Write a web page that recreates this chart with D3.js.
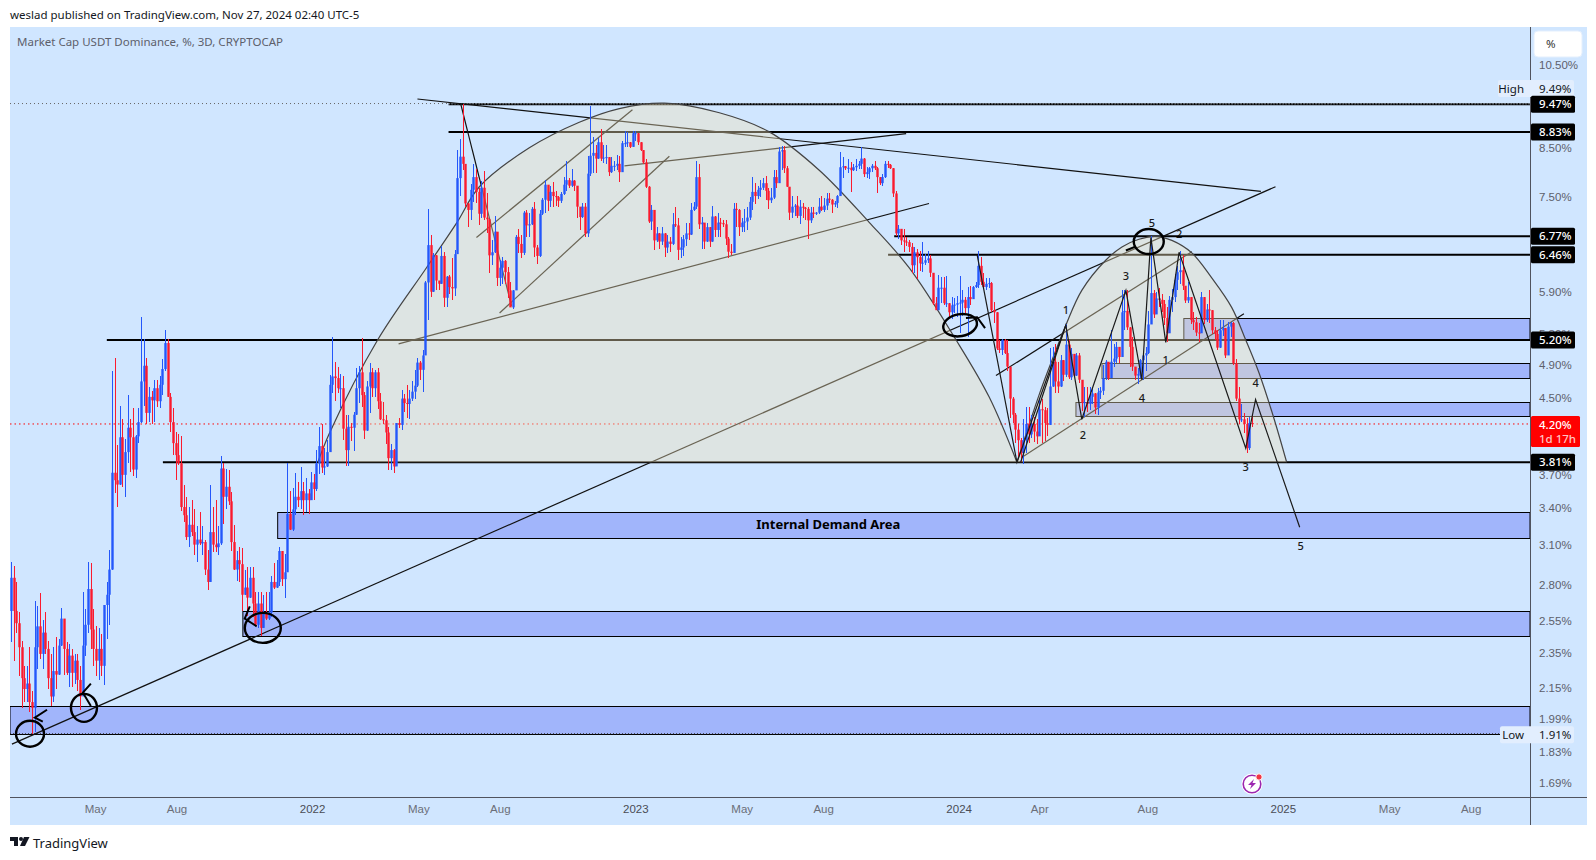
<![CDATA[<!DOCTYPE html>
<html><head><meta charset="utf-8">
<script src="https://cdnjs.cloudflare.com/ajax/libs/d3/7.8.5/d3.min.js"></script>
<style>
html,body{margin:0;padding:0;background:#fff;}
svg{display:block;font-family:"Noto Sans",sans-serif;}
</style></head><body>
<svg id="c" width="1596" height="860"></svg>
<script>
const firstOpen=2.61;
const closes=[
2.84,2.61,2.53,2.38,2.20,2.14,2.17,2.07,2.04,2.38,
2.51,2.34,2.47,2.37,2.20,2.10,2.24,2.22,2.39,2.56,
2.37,2.23,2.33,2.23,2.30,2.19,2.10,2.39,2.52,2.76,
2.49,2.37,2.30,2.37,2.27,2.65,2.72,2.90,3.71,3.64,
3.60,4.06,3.69,3.91,4.16,4.06,3.74,4.07,4.22,4.68,
4.87,4.32,4.50,4.46,4.60,4.45,4.64,4.83,5.16,4.50,
4.22,4.00,3.88,3.80,3.40,3.33,3.15,3.25,3.19,3.09,
3.13,3.10,3.11,2.90,2.81,3.19,3.09,3.07,3.10,3.75,
3.49,3.58,3.45,3.11,2.90,2.97,2.94,2.72,2.77,2.70,
2.84,2.66,2.52,2.66,2.50,2.59,2.56,2.60,2.81,2.77,
2.81,3.04,2.83,2.88,3.34,3.21,3.38,3.49,3.46,3.54,
3.46,3.52,3.46,
3.62,3.56,3.80,3.97,3.76,3.77,3.91,4.64,4.74,4.72,
4.60,4.60,4.15,3.93,4.17,4.16,4.30,4.60,4.79,4.52,
4.13,4.62,4.79,4.60,4.79,4.45,4.25,4.24,4.11,3.85,
3.93,3.77,4.21,4.19,4.48,4.43,4.42,4.48,4.56,4.63,
4.91,4.82,5.00,6.02,6.62,5.88,6.45,6.05,6.00,6.44,
5.79,6.11,5.95,5.93,6.47,7.85,8.29,8.14,7.36,7.24,
7.62,7.87,7.58,7.17,7.66,7.10,7.07,6.45,6.50,6.85,
6.09,6.25,6.36,6.18,5.90,5.65,5.90,6.76,6.64,6.49,
7.19,6.96,6.98,7.26,6.58,6.44,7.17,7.43,7.72,7.41,
7.58,7.50,7.48,7.41,7.54,7.72,7.81,7.70,7.80,7.70,
7.30,7.11,
7.30,6.82,7.94,8.31,8.37,8.25,8.60,8.25,8.27,8.28,
7.97,8.10,8.10,8.14,7.97,8.58,8.58,8.60,8.50,8.80,
8.80,8.60,8.43,8.17,7.68,7.03,7.24,6.70,6.82,6.68,
6.82,6.58,6.68,6.64,6.98,6.96,6.54,6.58,6.72,6.82,
6.80,7.24,7.30,7.87,6.98,7.01,6.68,6.93,6.68,7.12,
6.88,7.01,7.00,6.98,6.73,6.51,6.49,7.26,7.24,6.93,
7.01,7.03,7.10,7.39,7.58,7.50,7.62,7.66,7.75,7.60,
7.42,7.47,7.87,7.75,8.40,8.43,8.05,7.68,7.19,7.30,
7.32,7.13,7.30,7.28,7.26,7.05,7.19,7.17,7.19,7.30,
7.24,7.32,7.45,7.43,7.34,7.37,7.50,8.07,8.09,8.05,
8.06,8.01,8.07,8.10,8.14,8.25,7.93,7.97,8.05,8.10,
8.05,7.87,7.75,7.87,8.14,8.12,8.05,7.55,6.82,6.90,
6.70,
6.68,6.67,6.59,6.29,6.50,6.42,6.32,6.33,6.37,6.40,
6.17,5.71,5.61,5.94,5.94,5.71,5.71,5.58,5.68,5.69,
5.71,5.72,5.76,5.64,5.80,5.77,5.95,5.98,6.28,6.03,
5.95,6.00,6.01,5.61,5.58,5.09,5.07,5.20,5.03,4.86,
4.48,4.30,4.14,4.03,3.90,4.03,4.20,4.09,4.20,4.12,
4.07,4.36,4.35,4.21,4.19,4.62,4.92,4.68,4.62,4.94,
4.76,5.14,4.73,5.02,4.75,5.00,4.70,4.43,4.44,4.42,
4.50,4.54,4.38,4.55,4.57,4.72,4.92,4.72,4.92,4.96,
5.11,4.98,5.58,5.60,5.37,5.11,4.86,4.75,4.77,4.94,
5.00,5.03,5.41,5.86,5.55,5.78,5.76,5.70,5.50,5.29,
5.76,5.80,6.06,6.18,6.21,5.97,5.75,5.80,5.47,5.44,
5.30,5.29,5.80,5.47,5.62,5.61,5.33,5.28,5.10,5.33,
5.36,5.00,5.38,5.43,4.90,4.48,4.25,4.25,4.20,3.95,
4.21,4.20];
const highs=[
2.96,2.93,2.81,2.60,2.42,2.27,2.27,2.38,2.13,2.68,
2.64,2.73,2.55,2.60,2.42,2.34,2.38,2.44,2.43,2.63,
2.56,2.41,2.40,2.37,2.34,2.34,2.27,2.74,2.62,2.96,
2.95,2.62,2.51,2.50,2.46,2.65,2.81,3.05,4.80,4.97,
3.98,4.40,4.25,4.04,4.52,4.25,4.37,4.08,4.37,5.51,
5.22,4.97,4.62,4.57,4.70,4.70,4.75,4.95,5.33,5.22,
4.54,4.37,4.12,4.09,4.07,3.60,3.49,3.40,3.46,3.38,
3.24,3.36,3.24,3.13,3.05,3.60,3.40,3.46,3.24,3.87,
3.80,3.75,3.74,3.53,3.25,3.04,3.07,3.06,2.90,2.92,
2.92,2.92,2.74,2.74,2.74,2.72,2.74,2.74,2.85,2.95,
2.97,3.07,3.04,3.02,3.80,3.54,3.57,3.71,3.62,3.76,
3.62,3.66,3.56,
3.72,3.70,3.93,4.17,4.20,3.95,4.03,4.76,5.24,4.92,
4.86,4.77,4.74,4.30,4.30,4.21,4.33,4.84,4.87,5.23,
4.56,4.69,4.91,4.84,4.82,4.84,4.55,4.44,4.30,4.17,
3.99,3.94,4.21,4.26,4.58,4.53,4.64,4.58,4.68,4.82,
4.97,4.93,5.07,6.05,7.26,6.79,6.49,6.21,6.05,6.60,
6.51,6.12,6.14,6.40,6.54,8.43,8.67,9.49,8.14,7.36,
7.74,8.14,8.04,7.66,7.80,8.00,7.55,7.08,6.71,7.12,
6.82,6.37,6.42,6.37,6.26,6.02,5.90,6.80,6.89,6.80,
7.22,7.24,7.18,7.30,7.39,6.62,7.24,7.46,7.81,7.70,
7.70,7.77,7.60,7.50,7.58,7.87,8.19,7.85,8.03,7.81,
7.70,7.30,
7.37,7.37,8.30,9.43,8.72,8.55,8.70,8.90,8.55,8.55,
8.28,8.28,8.20,8.33,8.30,8.62,8.85,8.82,8.60,8.85,
8.84,8.80,8.60,8.43,8.24,7.70,7.33,7.24,6.93,6.82,
6.94,6.82,6.79,6.75,7.19,7.30,7.09,6.75,6.80,7.01,
7.01,7.37,7.38,8.19,8.14,7.11,7.01,7.00,6.93,7.32,
7.12,7.19,7.09,7.05,7.05,6.76,6.64,7.37,7.37,7.26,
7.09,7.26,7.30,7.48,7.87,7.75,7.70,7.81,7.85,7.90,
7.66,7.66,8.01,8.01,8.50,8.51,8.51,8.10,7.68,7.50,
7.35,7.50,7.43,7.36,7.30,7.30,7.30,7.30,7.20,7.47,
7.50,7.47,7.55,7.56,7.45,7.41,7.52,8.38,8.28,8.10,
8.25,8.17,8.13,8.25,8.20,8.50,8.27,8.07,8.07,8.14,
8.20,8.07,7.87,7.93,8.19,8.19,8.14,7.90,7.60,6.97,
6.90,
6.90,6.75,6.70,6.65,6.58,6.55,6.52,6.68,6.48,6.52,
6.45,6.17,5.80,6.14,6.10,6.10,6.12,5.71,5.80,5.79,
5.81,6.12,5.90,5.80,5.95,5.97,5.97,6.03,6.52,6.42,
6.17,6.09,6.09,6.03,5.73,5.51,5.20,5.22,5.22,5.20,
4.86,4.50,4.32,4.20,4.05,4.25,4.38,4.38,4.30,4.28,
4.25,4.48,4.47,4.39,4.37,5.09,5.11,5.15,4.92,5.00,
4.94,5.42,5.20,5.10,5.02,5.03,5.03,4.70,4.62,4.62,
4.62,4.60,4.55,4.60,4.62,4.88,4.94,4.92,5.33,5.15,
5.18,5.11,5.90,5.90,5.90,5.37,5.24,4.86,4.84,4.96,
5.03,5.11,5.60,6.77,5.90,5.88,5.94,5.85,5.75,5.65,
5.82,5.92,6.15,6.27,6.52,6.45,5.97,6.03,5.80,5.58,
5.51,5.43,5.88,5.80,5.70,5.91,5.60,5.37,5.33,5.47,
5.47,5.29,5.45,5.45,5.44,4.95,4.62,4.42,4.32,4.26,
4.27,4.30];
const lows=[
2.41,2.30,2.47,2.21,2.04,2.07,2.07,2.02,1.91,1.92,
2.25,2.31,2.25,2.34,2.14,2.05,2.07,2.14,2.22,2.39,
2.22,2.22,2.15,2.15,2.17,2.13,2.03,2.10,2.33,2.47,
2.37,2.27,2.21,2.19,2.21,2.16,2.43,2.52,2.90,3.52,
3.40,3.64,3.58,3.49,3.80,3.72,3.68,3.66,4.00,4.21,
4.40,4.20,4.22,4.20,4.22,4.38,4.37,4.52,4.80,4.50,
4.12,3.88,3.64,3.78,3.37,3.27,3.13,3.07,3.16,3.01,
2.96,3.09,3.01,2.86,2.75,2.81,3.03,3.03,3.01,3.09,
3.26,3.38,3.42,3.04,2.90,2.82,2.81,2.61,2.72,2.58,
2.70,2.57,2.52,2.50,2.45,2.57,2.55,2.55,2.57,2.76,
2.77,2.78,2.78,2.70,2.88,3.21,3.20,3.33,3.40,3.38,
3.33,3.36,3.34,
3.48,3.46,3.54,3.70,3.71,3.69,3.76,3.92,4.55,4.45,
4.55,4.37,4.03,3.77,3.77,4.02,3.92,4.30,4.43,4.38,
4.04,4.13,4.32,4.50,4.50,4.36,4.24,4.20,3.99,3.74,
3.74,3.71,3.77,4.16,4.14,4.33,4.26,4.25,4.45,4.47,
4.62,4.70,4.56,5.00,5.47,5.80,5.88,5.90,5.90,5.99,
5.66,5.66,5.85,5.76,5.82,6.47,7.50,8.01,7.30,6.93,
7.05,7.39,7.36,6.96,7.10,7.05,6.83,6.16,6.30,6.49,
5.97,5.97,6.00,6.00,5.79,5.65,5.62,5.90,6.49,6.41,
6.45,6.75,6.76,6.96,6.42,6.31,6.42,7.15,7.19,7.22,
7.30,7.30,7.32,7.30,7.36,7.52,7.60,7.66,7.68,7.60,
7.09,6.88,
7.10,6.75,6.75,7.90,7.95,7.95,8.33,8.20,8.15,8.14,
7.90,7.95,8.00,8.01,7.78,7.97,8.50,8.50,8.48,8.50,
8.62,8.55,8.42,8.13,7.66,7.01,6.88,6.54,6.67,6.55,
6.62,6.42,6.49,6.50,6.62,6.93,6.38,6.40,6.44,6.60,
6.70,6.80,7.22,7.26,6.89,6.55,6.55,6.68,6.58,6.88,
6.76,6.76,6.76,6.93,6.62,6.40,6.45,6.49,6.93,6.78,
6.85,6.85,6.88,7.05,7.24,7.35,7.45,7.48,7.62,7.42,
7.26,7.37,7.45,7.66,7.75,8.01,7.95,7.68,7.05,7.09,
7.13,7.10,6.98,7.10,7.05,6.72,7.01,7.10,7.14,7.17,
7.22,7.20,7.24,7.36,7.18,7.30,7.28,7.50,7.85,8.01,
7.95,7.58,8.00,8.00,8.03,8.03,7.87,7.85,7.83,7.97,
8.01,7.56,7.72,7.70,7.85,8.05,8.03,7.48,6.78,6.72,
6.62,
6.50,6.60,6.50,6.17,6.17,6.08,6.20,6.18,6.29,6.32,
6.11,5.68,5.61,5.61,5.72,5.68,5.65,5.51,5.48,5.57,
5.51,5.30,5.53,5.57,5.24,5.68,5.80,5.93,5.93,5.98,
5.92,5.90,5.93,5.58,5.43,5.07,5.03,5.00,5.02,4.80,
4.26,4.21,4.00,3.86,3.81,3.79,3.90,4.00,4.05,4.01,
3.99,4.07,4.00,4.02,4.07,4.21,4.62,4.55,4.55,4.62,
4.68,4.73,4.71,4.70,4.73,4.75,4.66,4.34,4.28,4.33,
4.35,4.42,4.31,4.30,4.48,4.52,4.70,4.70,4.72,4.85,
4.90,4.90,4.98,5.33,5.33,4.86,4.80,4.70,4.65,4.72,
4.70,4.80,5.02,5.41,5.50,5.55,5.65,5.58,5.40,5.18,
5.29,5.58,5.73,5.90,6.00,5.90,5.72,5.72,5.42,5.33,
5.25,5.18,5.29,5.42,5.45,5.43,5.28,5.20,5.07,5.10,
5.25,4.97,5.00,5.24,4.88,4.45,4.20,4.22,4.10,3.90,
3.93,4.17];

const startDate="2021-01-26", barDays=3;
const xTickDates=["2021-05-01","2021-08-01","2022-01-01","2022-05-01","2022-08-01","2023-01-01","2023-05-01","2023-08-01","2024-01-01","2024-04-01","2024-08-01","2025-01-01","2025-05-01","2025-08-01"];
const xTickLabels=["May","Aug","2022","May","Aug","2023","May","Aug","2024","Apr","Aug","2025","May","Aug"];
const yTicks=[10.5,8.5,7.5,5.9,5.3,4.9,4.5,3.7,3.4,3.1,2.8,2.55,2.35,2.15,1.99,1.83,1.69];
const priceTags=[9.47,8.83,6.77,6.46,5.20,3.81];
const levelStarts=[[9.47,164.7],[8.83,164.7],[6.77,332.4],[6.46,330.1],[5.20,36.1],[3.81,57.2]];
const high=9.49, low=1.91, last=4.20;
const zones=[[3.36,3.14,100.4],[2.61,2.45,87.3],[2.05,1.91,0],[5.50,5.20,441.4],[4.91,4.72,410.6],[4.44,4.29,400.8]];
const bigArc=[[115.5,3.81],[120,4.11],[138,5.20],[156.4,6.25],[167.7,7.0],[176.3,7.68],[195.1,8.48],[213.9,9.05],[229,9.37],[245.9,9.50],[266.6,9.27],[285.4,8.83],[304.2,8.01],[322.9,7.02],[338,6.25],[355.7,5.20],[368.1,4.50],[378.6,3.81]];
const smallArc=[[378.6,3.81],[386.9,4.52],[391.8,4.94],[397,5.40],[403,5.90],[412,6.37],[418.1,6.59],[424.5,6.72],[430.9,6.77],[436.9,6.70],[444.4,6.49],[451.9,6.09],[459.4,5.65],[464.7,5.20],[469.6,4.79],[475.2,4.27],[480.1,3.81]];
const trendLines=[
[[0.4,1.86],[475.9,7.68]],[[153,9.60],[470.4,7.59]],[[169.2,9.50],[188.4,5.67]],
[[145.9,5.15],[345.5,7.36]],[[230.9,8.10],[336.9,8.79]],[[175.2,6.75],[233.9,9.34]],
[[183.9,5.57],[247.8,8.30]],[[380.5,3.86],[464,5.56]],[[370.7,4.75],[444.4,6.51]]];
const zigzag=[[363.6,6.46],[378.6,3.81],[397,5.40],[403,4.25],[419.6,5.90],[425.6,4.70],[429,6.75],[434.6,5.17],[439.6,6.50],[464.7,3.95],[468.4,4.47],[485,3.23]];
const zigzag2=[[380,3.81],[397,5.40]];
const circles=[[7.2,1.91,14,13,0],[27.5,2.04,13,14,0],[94.8,2.50,18,15,0],[357.2,5.40,17,11,-10],[428.2,6.68,15,12.5,0]];
const arrows=[
[[13.6,2.03],[9,1.99],[12,1.97]],[[30.1,2.17],[27.1,2.12],[30.1,2.05]],
[[89.9,2.64],[88,2.56],[92.5,2.51]],[[359.4,5.50],[363.6,5.51],[366.6,5.36]],[[419.6,6.53],[423.4,6.60]]];
const backLabels=[["2",439.6,6.80],["3",464.7,3.76]];
const waveLabels=[["5",429.4,7.0],["3",419.6,6.12],["1",397,5.61],["1",434.6,4.94],["4",425.6,4.48],["2",403.4,4.08],["4",468.4,4.66],["5",485.4,3.08]];

if(closes.length!==highs.length||closes.length!==lows.length) throw new Error("len "+closes.length+" "+highs.length+" "+lows.length);

const L=10,R=1530,T=27,B=797;
const FS=11.5;
const svg=d3.select("#c");
const parse=d3.utcParse("%Y-%m-%d");
const x=d3.scaleUtc().domain([parse("2021-01-25"),parse("2025-10-07")]).range([L,R]);
const y=d3.scaleLog().domain([1.626,11.53]).range([B,T]);
const t0=parse(startDate);
const barDate=n=>new Date(+t0+n*barDays*864e5);
const bx=n=>x(barDate(n));
const BG="#d0e6ff";

svg.append("rect").attr("x",L).attr("y",T).attr("width",1587-L).attr("height",825-T).attr("fill",BG);
const defs=svg.append("defs");
defs.append("clipPath").attr("id","pl").append("rect").attr("x",L).attr("y",T).attr("width",R-L).attr("height",B-T);
const g=svg.append("g").attr("clip-path","url(#pl)");

const drawLabels=(sel,data)=>sel.append("g").selectAll("text").data(data).join("text").attr("x",d=>bx(d[1])).attr("y",d=>y(d[2])).attr("dy","0.35em")
 .attr("text-anchor","middle").attr("font-size",11).attr("font-weight",500).attr("fill","#1a1a1a").text(d=>d[0]);

// zones
g.append("g").selectAll("g").data(zones).join("g").each(function(d){
  const s=d3.select(this),x0=d[2]===0?L:bx(d[2]),t=Math.round(y(d[0]))+.5,b=Math.round(y(d[1]))+.5;
  s.append("rect").attr("x",x0).attr("y",t).attr("width",R-x0).attr("height",b-t).attr("fill","#a1b5fb").attr("stroke","#000").attr("stroke-width",1);
});
drawLabels(g,backLabels);
// dotted price lines
g.append("line").attr("x1",L).attr("x2",R).attr("y1",y(high)).attr("y2",y(high)).attr("stroke","#666").attr("stroke-dasharray","1 3");
g.append("line").attr("x1",L).attr("x2",R).attr("y1",y(last)).attr("y2",y(last)).attr("stroke","#f00").attr("stroke-dasharray","1.5 3");
g.append("line").attr("x1",L).attr("x2",R).attr("y1",y(low)).attr("y2",y(low)).attr("stroke","#333").attr("stroke-dasharray","1 2");
// levels
g.append("g").selectAll("line").data(levelStarts).join("line")
 .attr("x1",d=>bx(d[1])).attr("x2",R).attr("y1",d=>y(d[0])).attr("y2",d=>y(d[0])).attr("stroke","#000").attr("stroke-width",2);
// dotted highlight over the top level
g.append("line").attr("x1",bx(levelStarts[0][1])).attr("x2",R).attr("y1",y(levelStarts[0][0])-.5).attr("y2",y(levelStarts[0][0])-.5)
 .attr("stroke","#dfe9f5").attr("stroke-width",1).attr("stroke-dasharray","1 2");
// trendlines
const ln=d3.line().x(d=>bx(d[0])).y(d=>y(d[1]));
g.append("g").selectAll("path").data(trendLines).join("path").attr("d",ln).attr("fill","none").attr("stroke","#111").attr("stroke-width",1.2);
// arcs
const arc=d3.line().x(d=>bx(d[0])).y(d=>y(d[1])).curve(d3.curveCatmullRom.alpha(.5));
[bigArc,smallArc].forEach(a=>{
  g.append("path").attr("d",arc(a)+"Z").attr("fill","rgba(240,225,185,.4)").attr("stroke","none");
  g.append("path").attr("d",arc(a)).attr("fill","none").attr("stroke","#444").attr("stroke-width",1.2);
});
// candles
const UP="#2457fb",DN="#fb1a2e";
const candles=closes.map((c,i)=>({i,c,o:i?closes[i-1]:firstOpen,h:highs[i],l:lows[i]}));
const cg=g.append("g");
cg.selectAll("rect.w").data(candles).join("rect").attr("class","w").attr("shape-rendering","crispEdges")
 .attr("x",d=>Math.round(bx(d.i))).attr("width",1)
 .attr("y",d=>y(Math.max(d.h,d.o,d.c))).attr("height",d=>y(Math.min(d.l,d.o,d.c))-y(Math.max(d.h,d.o,d.c)))
 .attr("fill",d=>d.c>=d.o?UP:DN);
cg.selectAll("rect.b").data(candles).join("rect").attr("class","b")
 .attr("x",d=>Math.round(bx(d.i))-.7).attr("width",2.4)
 .attr("y",d=>y(Math.max(d.o,d.c))).attr("height",d=>Math.max(1,y(Math.min(d.o,d.c))-y(Math.max(d.o,d.c))))
 .attr("fill",d=>d.c>=d.o?UP:DN);
// zigzag + arrows
[zigzag,zigzag2].forEach(z=>g.append("path").attr("d",ln(z)).attr("fill","none").attr("stroke","#1a1a1a").attr("stroke-width",1.2));
g.append("g").selectAll("path").data(arrows).join("path").attr("d",ln).attr("fill","none").attr("stroke","#000").attr("stroke-width",2);
g.append("g").selectAll("ellipse").data(circles).join("ellipse")
 .attr("transform",d=>`translate(${bx(d[0])},${y(d[1])}) rotate(${d[4]})`).attr("rx",d=>d[2]).attr("ry",d=>d[3])
 .attr("fill","none").attr("stroke","#000").attr("stroke-width",2.4);
// wave labels
drawLabels(g,waveLabels);
g.append("text").attr("x",bx(307.6)).attr("y",y(3.25)).attr("dy","0.35em").attr("text-anchor","middle")
 .attr("font-size",13).attr("font-weight",700).attr("fill","#000").text("Internal Demand Area");

// axes
const yAxis=d3.axisRight(y).tickValues(yTicks).tickSize(0).tickPadding(9).tickFormat(d=>d.toFixed(2)+"%");
const ya=svg.append("g").attr("transform",`translate(${R},1)`).call(yAxis);
ya.select(".domain").remove();
ya.selectAll("text").attr("font-size",FS).attr("font-family","inherit").attr("fill","#5d606b");
const xDates=xTickDates.map(parse);
const xAxis=d3.axisBottom(x).tickValues(xDates).tickSize(0).tickPadding(8).tickFormat((d,i)=>xTickLabels[i]);
const xa=svg.append("g").attr("transform",`translate(0,${B})`).call(xAxis);
xa.select(".domain").remove();
xa.selectAll("text").attr("font-size",FS).attr("font-family","inherit").attr("fill",(d,i)=>/^\d/.test(xTickLabels[i])?"#4a4c55":"#6b6e78");
svg.append("line").attr("x1",R+.5).attr("x2",R+.5).attr("y1",T).attr("y2",825).attr("stroke","#50535e");
svg.append("line").attr("x1",L).attr("x2",1587).attr("y1",B+.5).attr("y2",B+.5).attr("stroke","#50535e");

// High / Low labels sit under the black price tags
const tags=svg.append("g");
[[high,"High",-32,44,-15],[low,"Low",-30,44,1]].forEach(([v,t,dx,w,off])=>{
  const c=y(v)+off;
  tags.append("rect").attr("x",R+dx).attr("y",c-8.5).attr("width",-dx+w).attr("height",17).attr("rx",2).attr("fill","#e2eefe");
  tags.append("text").attr("x",R-6).attr("y",c).attr("dy","0.35em").attr("text-anchor","end").attr("font-size",FS).attr("fill","#131722").text(t);
  tags.append("text").attr("x",R+9).attr("y",c).attr("dy","0.35em").attr("font-size",FS).attr("fill","#131722").text(v.toFixed(2)+"%");
});
priceTags.forEach(v=>{
  const c=y(v);
  tags.append("rect").attr("x",R+1).attr("y",c-8.5).attr("width",44).attr("height",17).attr("rx",1.5).attr("fill","#000");
  tags.append("text").attr("x",R+9).attr("y",c).attr("dy","0.35em").attr("font-size",FS).attr("font-weight",500).attr("fill","#fff").text(v.toFixed(2)+"%");
});
const cy=y(last);
tags.append("rect").attr("x",R+1).attr("y",cy-8).attr("width",49).attr("height",31).attr("rx",1.5).attr("fill","#f00");
tags.append("text").attr("x",R+9).attr("y",cy+1).attr("dy","0.35em").attr("font-size",FS).attr("font-weight",500).attr("fill","#fff").text(last.toFixed(2)+"%");
tags.append("text").attr("x",R+9).attr("y",cy+15).attr("dy","0.35em").attr("font-size",FS).attr("font-weight",500).attr("fill","#ffc4c4").text("1d 17h");
// % box
svg.append("rect").attr("x",1534).attr("y",31).attr("width",48).attr("height",26).attr("rx",4).attr("fill","#fff").attr("stroke","#e4effd");
svg.append("text").attr("x",1546).attr("y",44).attr("dy","0.35em").attr("font-size",FS).attr("fill","#333").text("%");

// header/title/footer
svg.append("text").attr("x",10).attr("y",15).attr("dy","0.35em").attr("font-size",FS).attr("fill","#131722").text("weslad published on TradingView.com, Nov 27, 2024 02:40 UTC-5");
svg.append("text").attr("x",17).attr("y",42).attr("dy","0.35em").attr("font-size",FS).attr("fill","#5d606b").text("Market Cap USDT Dominance, %, 3D, CRYPTOCAP");
svg.append("text").attr("x",33).attr("y",843).attr("dy","0.35em").attr("font-size",13).attr("fill","#131722").text("TradingView");
const logo=svg.append("g").attr("transform","translate(10,837)").attr("fill","#131722");
logo.append("path").attr("d","M0 0H8V9H4V4H0Z");
logo.append("circle").attr("cx",11).attr("cy",2).attr("r",2);
logo.append("path").attr("d","M14 0H19.5L15 9H10Z");
// lightning icon
const ic=svg.append("g").attr("transform","translate(1252,784)");
ic.append("circle").attr("r",10.5).attr("fill","#fff");
ic.append("circle").attr("r",8.8).attr("fill","none").attr("stroke","#9c27b0").attr("stroke-width",1.6);
ic.append("path").attr("d","M2 -5L-4 1H-0.5L-2 5L4 -1H0.5Z").attr("fill","#9c27b0");
ic.append("circle").attr("cx",7).attr("cy",-7).attr("r",3.2).attr("fill","#f23645").attr("stroke","#fff");
</script>
</body></html>]]>
